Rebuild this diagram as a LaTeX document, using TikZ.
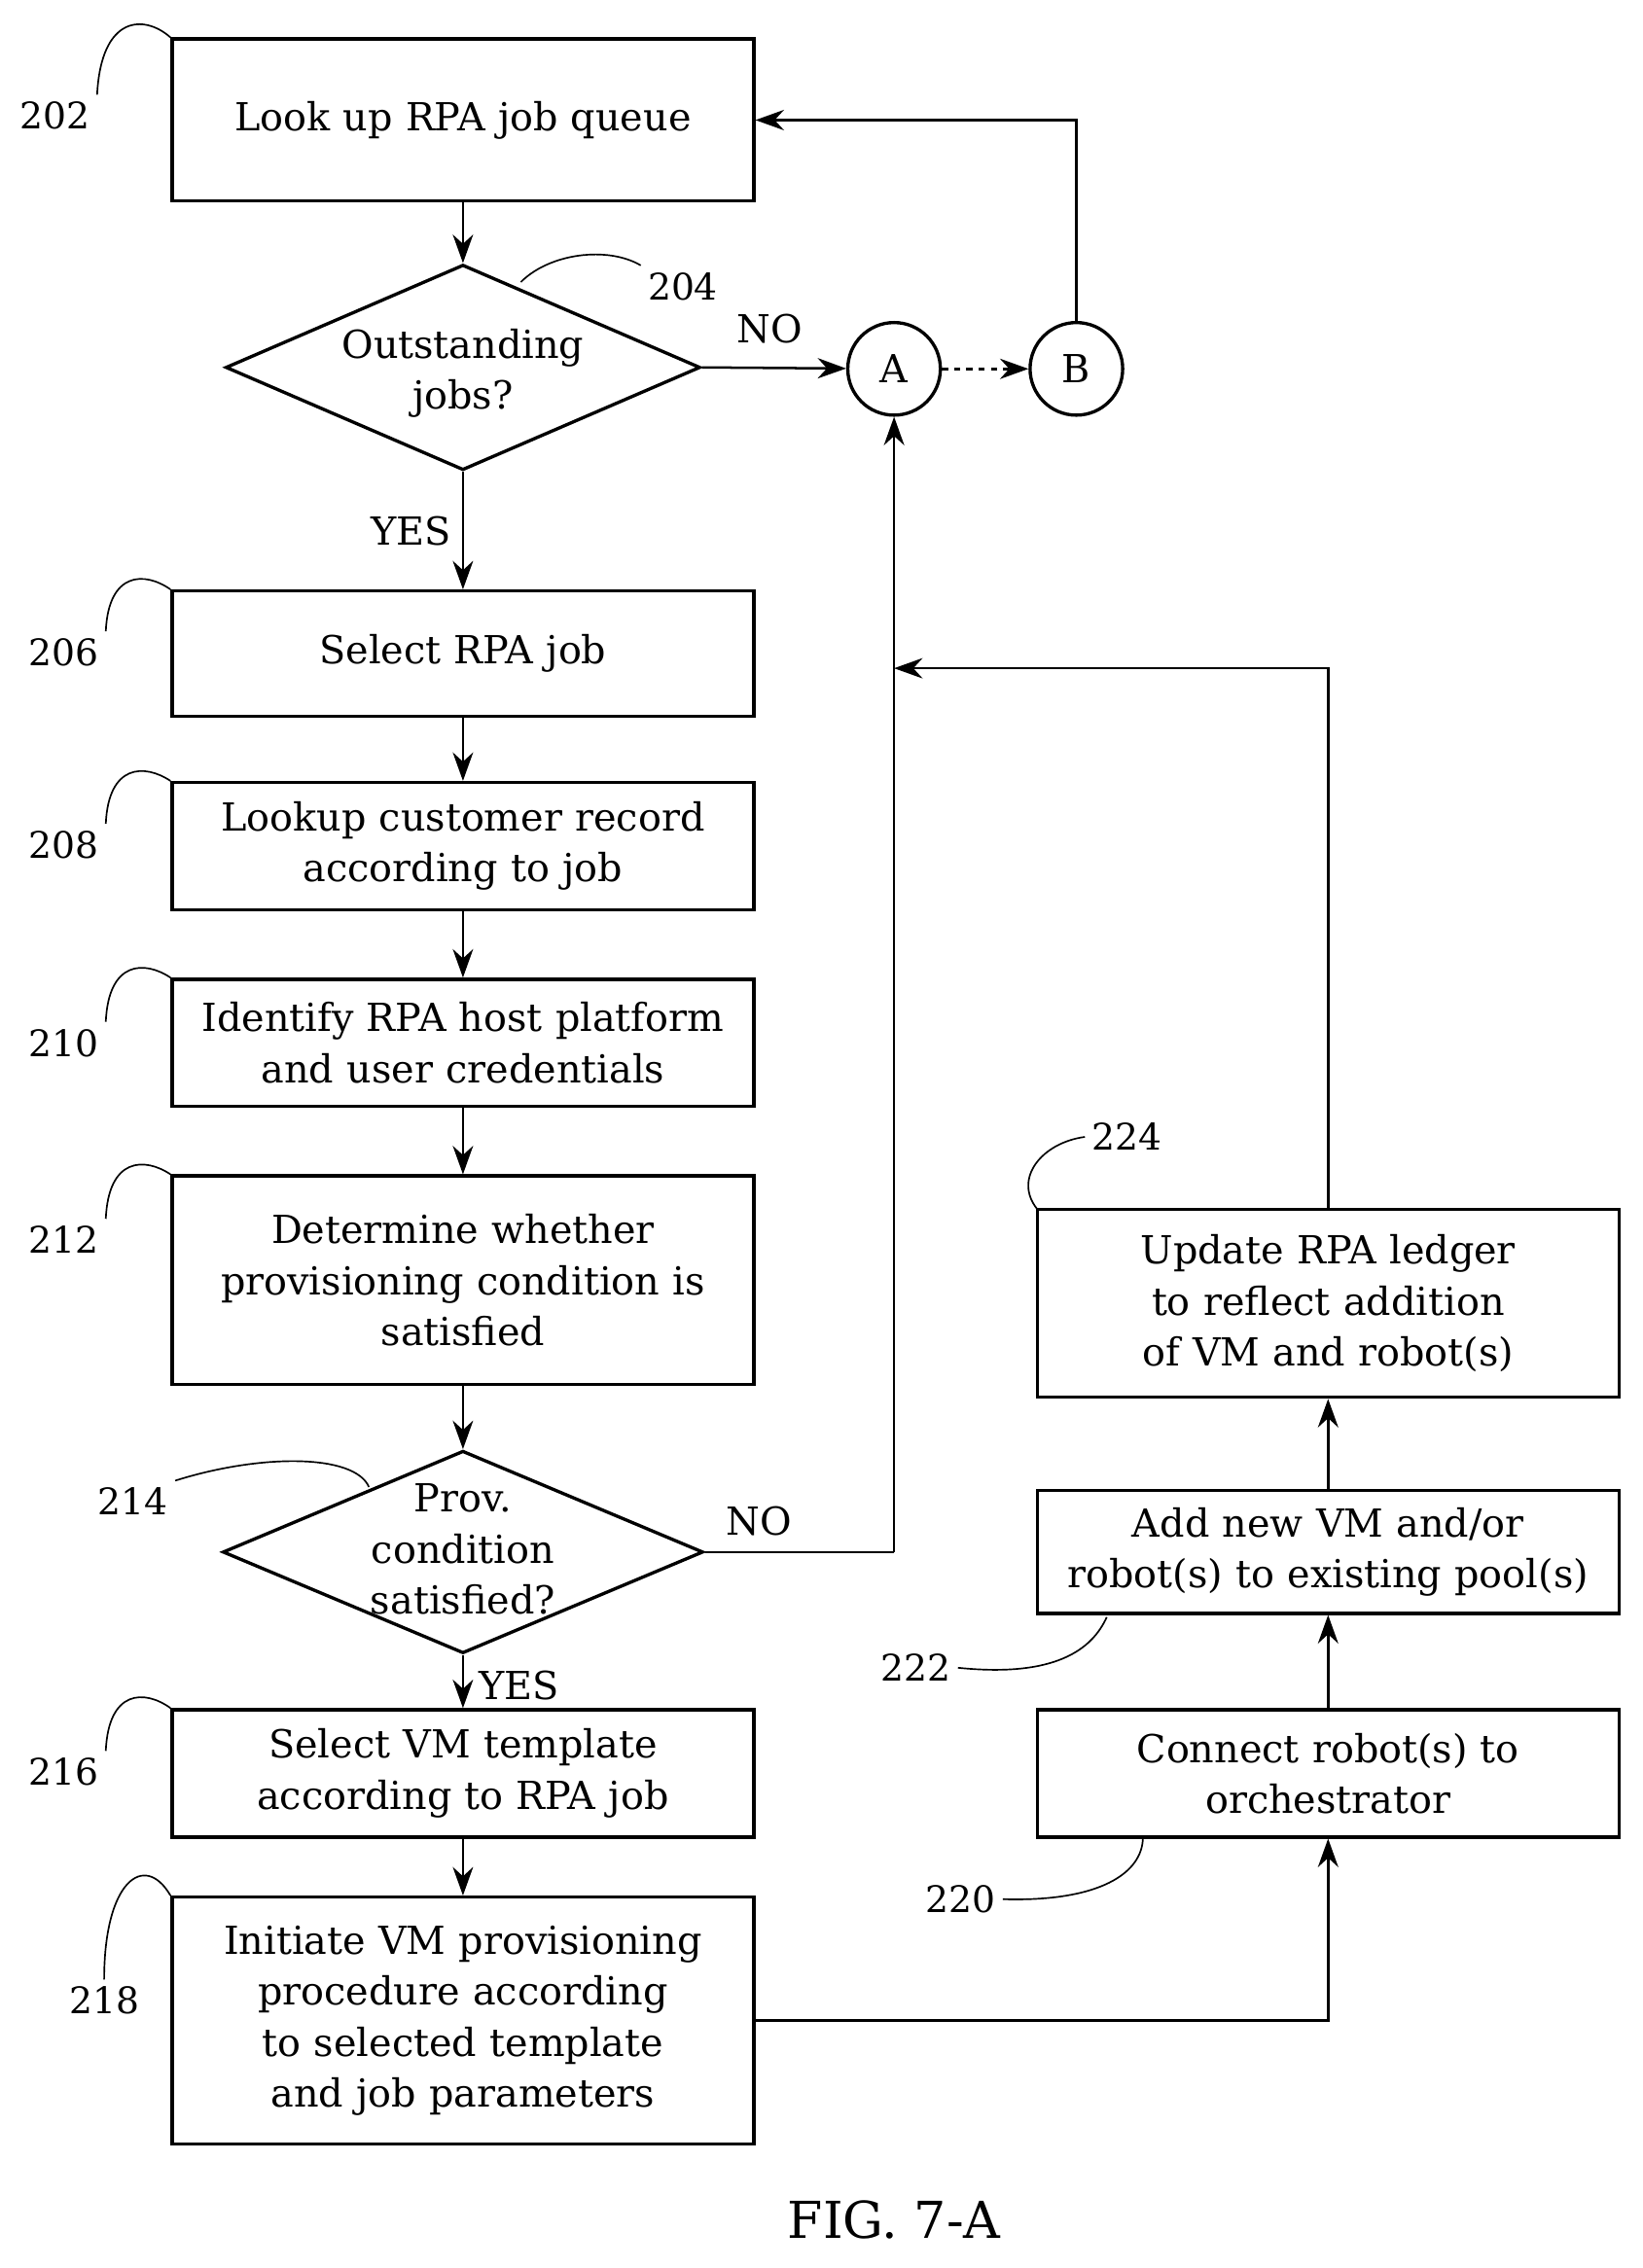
\documentclass[tikz,border=0pt]{standalone}
\usepackage{tikz}
\usepackage{fontspec}
\setmainfont{DejaVu Serif}
\usetikzlibrary{shapes.geometric,arrows.meta}
\tikzstyle{arrow} = [line width=1.2pt,-{Stealth[length=14pt,width=10pt]}]
\tikzstyle{block} = [
        rectangle,
        minimum width=10.05cm,
        text width=9.6cm,
        text centered,
        draw=black,
        line width=1.6pt,
        font=\fontsize{19}{25}\selectfont,
    ]
\tikzstyle{decision} = [
        diamond,
        inner sep=0pt,
        draw=black,
        line width=1.6pt,
    ]
\tikzstyle{txt} = [font=\fontsize{19}{25}\selectfont, align=center]
\tikzstyle{connector} = [circle, draw=black, line width=1.6pt, minimum size=1.6cm, inner sep=0pt, font=\fontsize{19}{22}\selectfont]
\tikzstyle{reflabel} = [font=\fontsize{18}{22}\selectfont]
\tikzstyle{lead} = [thick]

\begin{document}
\begin{tikzpicture}[x=0.025cm,y=-0.025cm]
            \useasboundingbox (0,0) rectangle (1135,1568);
            % left column
            \node [block, minimum height=2.8cm] (lookup) at (320,83) {Look up RPA job queue};
            \node [decision, minimum width=8.2cm, minimum height=3.55cm] (outst) at (320,254) {};
            \node [txt] (outsttxt) at (320,258) {Outstanding\\jobs?};
            \node [block, minimum height=2.17cm] (select) at (320,452) {Select RPA job};
            \node [block, minimum height=2.2cm] (record) at (320,585) {Lookup customer record\\according to job};
            \node [block, minimum height=2.2cm] (ident) at (320,721) {Identify RPA host platform\\and user credentials};
            \node [block, minimum height=3.6cm] (determ) at (320,885) {Determine whether\\provisioning condition is\\satisfied};
            \node [decision, minimum width=8.3cm, minimum height=3.5cm] (prov) at (320,1073) {};
            \node [txt] (provtxt) at (320,1071) {Prov.\\condition\\satisfied?};
            \node [block, minimum height=2.2cm] (templ) at (320,1226) {Select VM template\\according to RPA job};
            \node [block, minimum height=4.27cm] (init) at (320,1397) {Initiate VM provisioning\\procedure according\\to selected template\\and job parameters};
            % right column
            \node [block, minimum height=2.2cm] (connect) at (918,1226) {Connect robot(s) to\\orchestrator};
            \node [block, minimum height=2.12cm] (addvm) at (918,1073) {Add new VM and/or\\robot(s) to existing pool(s)};
            \node [block, minimum height=3.25cm] (ledger) at (918,901) {Update RPA ledger\\to reflect addition\\of VM and robot(s)};
            \node [connector] (a) at (618,255) {A};
            \node [connector] (b) at (744,255) {B};
            \coordinate (join) at (618,462);
            \coordinate (provno) at (618,1073);
            % arrows
            \draw [arrow] (lookup) -- (outst);
            \draw [arrow] (outst) -- node [txt, left, xshift=-2pt] {YES} (select);
            \draw [arrow] (outst.east) -- node [txt, above, yshift=8pt, xshift=-2pt] {NO} (a);
            \draw [arrow, dashed] (a) -- (b);
            \draw [arrow] (b.north) |- (lookup.east);
            \draw [arrow] (select) -- (record);
            \draw [arrow] (record) -- (ident);
            \draw [arrow] (ident) -- (determ);
            \draw [arrow] (determ) -- (prov);
            \draw [arrow] (prov) -- node [txt, right, xshift=4pt, yshift=-2pt] {YES} (templ);
            \draw [arrow] (templ) -- (init);
            \draw [line width=1.2pt] (prov.east) -- node [txt, above, yshift=4pt, xshift=-20pt] {NO} (provno);
            \draw [arrow] (provno) -- (a);
            \draw [arrow] (ledger.north) |- (join);
            \draw [arrow] (init.east) -| (connect.south);
            \draw [arrow] (connect) -- (addvm);
            \draw [arrow] (addvm) -- (ledger);
            % reference labels
            \node [reflabel] (l202) at (38,80) {202};
            \draw [lead] (l202.north east) .. controls (70,10) and (100,10) .. (lookup.north west);
            \node [reflabel] (l204) at (472,198) {204};
            \draw [lead] (l204.north west) .. controls (420,170) and (380,175) .. (360,195);
            \node [reflabel] (l206) at (44,451) {206};
            \draw [lead] (l206.north east) .. controls (75,395) and (100,395) .. (select.north west);
            \node [reflabel] (l208) at (44,584) {208};
            \draw [lead] (l208.north east) .. controls (75,528) and (100,528) .. (record.north west);
            \node [reflabel] (l210) at (44,721) {210};
            \draw [lead] (l210.north east) .. controls (75,664) and (100,664) .. (ident.north west);
            \node [reflabel] (l212) at (44,857) {212};
            \draw [lead] (l212.north east) .. controls (75,800) and (100,800) .. (determ.north west);
            \node [reflabel] (l214) at (92,1038) {214};
            \draw [lead] (l214.north east) .. controls (180,1005) and (245,1005) .. (255,1028);
            \node [reflabel] (l216) at (44,1225) {216};
            \draw [lead] (l216.north east) .. controls (75,1168) and (100,1168) .. (templ.north west);
            \node [reflabel] (l218) at (72,1383) {218};
            \draw [lead] (l218.north) .. controls (72,1300) and (100,1280) .. (init.north west);
            \node [reflabel] (l222) at (633,1153) {222};
            \draw [lead] (l222.east) .. controls (730,1160) and (755,1140) .. (765,1118);
            \node [reflabel] (l220) at (664,1313) {220};
            \draw [lead] (l220.east) .. controls (760,1315) and (790,1295) .. (790,1270);
            \node [reflabel] (l224) at (779,786) {224};
            \draw [lead] (l224.west) .. controls (720,790) and (700,815) .. (717,836);
            \node [font=\fontsize{25}{30}\selectfont] (fig) at (618,1535) {FIG. 7-A};
        \end{tikzpicture}
\end{document}
